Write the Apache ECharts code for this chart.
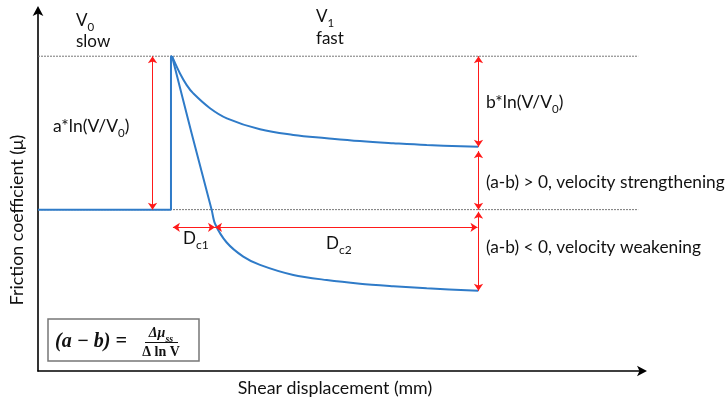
<!DOCTYPE html>
<html><head><meta charset="utf-8">
<script src="https://cdn.jsdelivr.net/npm/echarts@6/dist/echarts.min.js"></script>
<style>html,body{margin:0;padding:0;background:#fff}#c{width:728px;height:399px}</style>
</head><body><div id="c"></div>
<script>
// ---- data (displacement in % of axis, friction in % of axis) ----
const steadyLevels = [87.2, 44.7];           // dotted reference levels (V0 peak, V0 steady state)
const dottedExtent = [0, 99.2];
const baseline = [[0,44.7],[21.98,44.7],[21.98,87.2],[22.15,87.2]];
const upperCurve = [[22.15,87.2],[23.47,82.4],[24.58,79.2],[25.67,76.9],[28.43,72.8],[31.21,70.0],[36.69,66.95],[42.2,65.4],[47.72,64.5],[53.22,63.7],[58.73,63.1],[64.25,62.6],[72.78,62.1]];
const lowerCurve = [[22.15,87.2],[25.4,65.8],[28.71,44.6],[29.26,40.8],[31.19,35.6],[33.93,31.7],[36.69,29.4],[42.2,26.6],[47.72,25.2],[53.22,24.2],[58.73,23.5],[64.25,22.9],[72.78,22.2]];
const arrowX = { a: 18.93, right: 72.81 };
const dcY = 39.8;
const dcX = [22.3, 29.26, 72.64];

const red = '#ff1a1a';
const blue = '#2f7bc8';
const font = 'Lato, "Open Sans", sans-serif';
const serif = '"Liberation Serif", serif';

function span(x1,y1,x2,y2){ return [{coord:[x1,y1]},{coord:[x2,y2]}]; }
const arrowLines = [
  span(arrowX.a, steadyLevels[0], arrowX.a, steadyLevels[1]),
  span(arrowX.right, steadyLevels[0], arrowX.right, upperCurve[upperCurve.length-1][1]),
  span(arrowX.right, upperCurve[upperCurve.length-1][1]-1.2, arrowX.right, steadyLevels[1]),
  span(arrowX.right, steadyLevels[1]-0.6, arrowX.right, lowerCurve[lowerCurve.length-1][1]),
  span(dcX[0], dcY, dcX[1], dcY),
  span(dcX[1], dcY, dcX[2], dcY)
];

const chart = echarts.init(document.getElementById('c'), null, {renderer:'canvas'});
const subRich = { s: { fontSize: 11.5, fontFamily: font, verticalAlign: 'bottom', padding:[0,0,-4,0], fill:'#111' } };
function txt(text, x, y, size, extra){
  return Object.assign({ type:'text', x:x, y:y, style:{ text:text, fontSize:size||16, fontFamily:font, fill:'#111', verticalAlign:'middle', rich:subRich } }, extra||{});
}
chart.setOption({
  animation:false,
  grid:{ left:38, right:85, top:10, bottom:28 },
  xAxis:{ type:'value', min:0, max:100, axisLine:{ lineStyle:{color:'#000', width:1.6}, symbol:['none','arrow'], symbolSize:[8,10], symbolOffset:[0,4] }, axisTick:{show:false}, axisLabel:{show:false}, splitLine:{show:false} },
  yAxis:{ type:'value', min:0, max:100, axisLine:{ show:true, lineStyle:{color:'#000', width:1.6}, symbol:['none','arrow'], symbolSize:[8,10], symbolOffset:[0,4] }, axisTick:{show:false}, axisLabel:{show:false}, splitLine:{show:false} },
  series:[
    { type:'line', data:[[dottedExtent[0],steadyLevels[0]],[dottedExtent[1],steadyLevels[0]]], symbol:'none', lineStyle:{color:'#777', width:1, type:[2,1]}, silent:true },
    { type:'line', data:[[dottedExtent[0],steadyLevels[1]],[dottedExtent[1],steadyLevels[1]]], symbol:'none', lineStyle:{color:'#777', width:1, type:[2,1]}, silent:true,
      markLine:{ silent:true, symbol:['arrow','arrow'], symbolSize:7, label:{show:false}, emphasis:{disabled:true}, lineStyle:{color:red, width:1, type:'solid'}, data:arrowLines } },
    { type:'line', data:baseline, symbol:'none', lineStyle:{color:blue, width:2}, silent:true },
    { type:'line', data:upperCurve, symbol:'none', smooth:0.4, lineStyle:{color:blue, width:2}, silent:true },
    { type:'line', data:lowerCurve, symbol:'none', smooth:0.3, lineStyle:{color:blue, width:2}, silent:true }
  ],
  graphic:[
    txt('V{s|0}', 76, 21, 17),
    txt('slow', 76, 42, 17),
    txt('V{s|1}', 316, 17, 17),
    txt('fast', 316, 39, 17),
    txt('a*ln(V/V{s|0})', 53, 126, 17.5),
    txt('b*ln(V/V{s|0})', 486, 102, 17.5),
    txt('(a-b) > 0, velocity strengthening', 486, 182, 17.3),
    txt('(a-b) < 0, velocity weakening', 486, 247, 17.3),
    { type:'text', x:183, y:239, style:{ text:'D{c|c1}', fontSize:17, fontFamily:font, fill:'#111', verticalAlign:'middle', rich:{ c:{ fontSize:12, fontFamily:font, verticalAlign:'bottom', padding:[0,0,-4,0] } } } },
    { type:'text', x:326, y:244, style:{ text:'D{c|c2}', fontSize:17, fontFamily:font, fill:'#111', verticalAlign:'middle', rich:{ c:{ fontSize:12, fontFamily:font, verticalAlign:'bottom', padding:[0,0,-4,0] } } } },
    { type:'text', x:335, y:388, style:{ text:'Shear displacement (mm)', fontSize:17.8, fontFamily:font, fill:'#111', align:'center', verticalAlign:'middle' } },
    { type:'text', x:17, y:220, rotation:Math.PI/2, style:{ text:'Friction coefficient (μ)', fontSize:17.8, fontFamily:font, fill:'#111', align:'center', verticalAlign:'middle' } },
    { type:'rect', shape:{ x:48, y:319, width:151, height:42 }, style:{ fill:'#fff', stroke:'#777', lineWidth:1.5 } },
    { type:'text', x:55, y:342, style:{ text:'(a − b) =', fontSize:20, fontFamily:serif, fontStyle:'italic', fontWeight:'bold', fill:'#111', verticalAlign:'middle' } },
    { type:'text', x:161, y:333, style:{ text:'Δμ{ss|ss}', fontSize:14, fontFamily:serif, fontStyle:'italic', fontWeight:'bold', fill:'#111', align:'center', verticalAlign:'middle', rich:{ ss:{ fontSize:10, fontFamily:serif, fontStyle:'italic', fontWeight:'bold', verticalAlign:'bottom', padding:[0,0,-4,0] } } } },
    { type:'line', shape:{ x1:145, y1:342.5, x2:178, y2:342.5 }, style:{ stroke:'#111', lineWidth:1 } },
    { type:'text', x:161, y:352, style:{ text:'Δ ln V', fontSize:14, fontFamily:serif, fontWeight:'bold', fill:'#111', align:'center', verticalAlign:'middle', rich:{} } }
  ]
});
</script></body></html>
